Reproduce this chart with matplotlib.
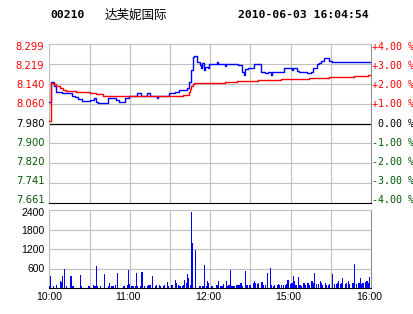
import matplotlib
matplotlib.use('Agg')
import matplotlib.pyplot as plt

# ---------------- data ----------------
code = "00210"
name = "达芙妮国际"
stamp = "2010-06-03 16:04:54"
prev_close = 7.980
price_labels = ["8.299", "8.219", "8.140", "8.060", "7.980", "7.900", "7.820", "7.741", "7.661"]
pct_labels = ["+4.00 %", "+3.00 %", "+2.00 %", "+1.00 %", " 0.00 %",
              "-1.00 %", "-2.00 %", "-3.00 %", "-4.00 %"]
time_labels = ["10:00", "11:00", "12:00", "15:00", "16:00"]
time_label_pos = [0, 60, 120, 180, 240]
vol_labels = ["2400", "1800", "1200", "600"]

# minutes since open (10:00), last price
price_t = [0, 1, 3, 5, 9, 17, 19, 21, 24, 30, 33, 35, 36, 44, 50, 52, 56, 59, 65, 68,
           73, 75, 80, 81, 89, 94, 97, 103, 104, 106, 107, 108, 110, 112, 113, 114, 115,
           116, 118, 119, 125, 126, 131, 132, 141, 144, 145, 146, 148, 153, 158, 161, 163,
           165, 166, 175, 181, 182, 185, 186, 192, 195, 197, 200, 201, 203, 205, 209, 211, 240]
price_v = [8.067, 8.145, 8.130, 8.108, 8.101, 8.092, 8.085, 8.077, 8.069, 8.074, 8.081,
           8.067, 8.061, 8.081, 8.074, 8.067, 8.084, 8.090, 8.101, 8.090, 8.101, 8.090,
           8.081, 8.090, 8.101, 8.108, 8.114, 8.121, 8.148, 8.195, 8.246, 8.251, 8.228,
           8.215, 8.201, 8.222, 8.195, 8.208, 8.201, 8.219, 8.227, 8.219, 8.211, 8.219,
           8.215, 8.188, 8.175, 8.197, 8.201, 8.219, 8.188, 8.181, 8.188, 8.175, 8.188,
           8.201, 8.195, 8.201, 8.192, 8.188, 8.181, 8.188, 8.201, 8.219, 8.224, 8.232,
           8.242, 8.232, 8.228, 8.228]

# average price
avg_t = [0, 1, 3, 5, 8, 10, 12, 20, 30, 35, 40, 50, 100, 104, 105, 106, 107, 108,
         131, 140, 156, 173, 194, 209, 227, 238, 240]
avg_v = [7.990, 8.144, 8.137, 8.130, 8.121, 8.114, 8.110, 8.105, 8.101, 8.097, 8.092,
         8.090, 8.094, 8.105, 8.118, 8.130, 8.137, 8.141, 8.145, 8.151, 8.153, 8.157,
         8.161, 8.165, 8.171, 8.175, 8.175]

# volume per minute
vol_t = [0, 1, 3, 5, 8, 9, 10, 11, 13, 16, 17, 18, 23, 24, 29, 30, 33, 34, 35, 36, 38,
         41, 44, 45, 46, 47, 48, 49, 51, 55, 56, 58, 59, 60, 61, 62, 63, 64, 65, 66, 68,
         69, 71, 73, 74, 75, 77, 79, 80, 82, 83, 85, 86, 88, 89, 91, 92, 94, 95, 96, 97,
         98, 99, 100, 101, 102, 103, 104, 105, 106, 107, 109, 112, 113, 114, 115, 116,
         117, 118, 119, 121, 122, 125, 126, 128, 129, 130, 132, 133, 134, 135, 136, 137,
         138, 140, 141, 142, 143, 144, 146, 147, 148, 149, 150, 152, 153, 154, 155, 156,
         158, 159, 160, 161, 163, 165, 166, 167, 168, 170, 171, 172, 173, 175, 176, 177,
         178, 180, 181, 182, 183, 184, 186, 187, 188, 190, 191, 193, 194, 196, 197, 198,
         199, 201, 202, 203, 204, 206, 207, 208, 209, 211, 213, 214, 215, 216, 217, 218,
         219, 221, 222, 223, 224, 226, 227, 228, 229, 231, 232, 233, 234, 236, 237, 238, 239]
vol_v = [70, 377, 70, 100, 224, 190, 377, 592, 70, 377, 70, 70, 408, 70, 70, 70, 100, 70,
         683, 70, 70, 438, 70, 163, 70, 70, 70, 100, 459, 70, 70, 100, 561, 133, 70, 70,
         70, 70, 469, 70, 70, 500, 70, 70, 100, 100, 377, 70, 100, 100, 70, 70, 100, 194,
         70, 100, 100, 255, 163, 100, 70, 70, 70, 100, 255, 163, 438, 316, 100, 2346, 1398,
         1173, 70, 70, 70, 70, 714, 70, 224, 173, 70, 70, 100, 224, 71, 71, 122, 224, 71,
         102, 561, 71, 71, 71, 102, 102, 102, 153, 71, 530, 102, 102, 102, 102, 173, 224,
         153, 122, 153, 204, 184, 102, 102, 459, 632, 102, 71, 102, 102, 122, 102, 102,
         102, 102, 122, 255, 122, 173, 377, 224, 102, 357, 102, 71, 153, 102, 173, 102,
         235, 153, 459, 122, 122, 224, 153, 102, 153, 102, 102, 122, 428, 122, 122, 153,
         224, 122, 153, 326, 122, 153, 224, 122, 153, 153, 745, 122, 173, 326, 122, 153,
         184, 224, 153, 357]

# ---------------- layout ----------------
W, H = 414, 314
fig = plt.figure(figsize=(W / 100, H / 100), dpi=100)
fig.patch.set_facecolor('white')


def rect(l, t, r, b):
    return [l / W, 1 - b / H, (r - l) / W, (b - t) / H]


GRID = '#c0c0c0'
RED = '#ff0000'
GREEN = '#005a00'
BLUE = '#0000ff'

ax = fig.add_axes(rect(49.5, 44, 371, 203))
axv = fig.add_axes(rect(49.5, 210, 371, 288.3))

for a in (ax, axv):
    a.set_xlim(0, 240)
    a.set_xticks([])
    a.set_yticks([])
    for s in a.spines.values():
        s.set_color(GRID)
        s.set_linewidth(0.8)
    a.spines['right'].set_color('#909090')
    for t in range(30, 240, 30):
        a.axvline(t, color=GRID, lw=0.8, zorder=0)

ax.set_ylim(prev_close * 0.96, prev_close * 1.04)
ax.spines['bottom'].set_color('black')
for k in (-3, -2, -1, 1, 2, 3):
    ax.axhline(prev_close * (1 + k / 100), color=GRID, lw=0.8, zorder=0)
ax.axhline(prev_close, color='black', lw=0.9, zorder=1)

ax.plot(price_t, price_v, drawstyle='steps-post', color=BLUE, lw=1.0, zorder=3)
ax.plot(avg_t, avg_v, drawstyle='steps-post', color=RED, lw=1.0, zorder=4)

axv.set_ylim(0, 2400)
axv.spines['bottom'].set_color('black')
for v in (600, 1200, 1800):
    axv.axhline(v, color=GRID, lw=0.8, zorder=0)
axv.bar(vol_t, vol_v, width=0.85, color=BLUE, zorder=3)

# price labels
for i, (pl, ql) in enumerate(zip(price_labels, pct_labels)):
    ypx = 47 + i * 19.16
    col = RED if i < 4 else ('black' if i == 4 else GREEN)
    fig.text(44.5 / W, 1 - ypx / H, pl, ha='right', va='center', color=col,
             fontsize=7.2, family='DejaVu Sans')
    fig.text(372 / W, 1 - ypx / H, ql, ha='left', va='center', color=col,
             fontsize=7.2, family='DejaVu Sans Mono')

# volume labels
for i, vl in enumerate(vol_labels):
    ypx = 212.5 + i * 18.9
    fig.text(44.5 / W, 1 - ypx / H, vl, ha='right', va='center', color='black',
             fontsize=7.5, family='Liberation Sans')

# time labels
for tl, tp in zip(time_labels, time_label_pos):
    xpx = 49.5 + tp * (321.5 / 240) - (0 if tp == 0 else 2)
    fig.text(xpx / W, 1 - 297.5 / H, tl, ha='center', va='center', color='black',
             fontsize=7.5, family='Liberation Sans')

# header
fig.text(50 / W, 1 - 15.5 / H, code, ha='left', va='center', fontsize=8.2,
         family='DejaVu Sans Mono', fontweight='bold')
fig.text(105 / W, 1 - 15.5 / H, name, ha='left', va='center', fontsize=9,
         family=['Noto Sans CJK SC', 'DejaVu Sans'])
fig.text(238 / W, 1 - 15.5 / H, stamp, ha='left', va='center', fontsize=8.2,
         family='DejaVu Sans Mono', fontweight='bold')

fig.savefig('out.png', dpi=100)
